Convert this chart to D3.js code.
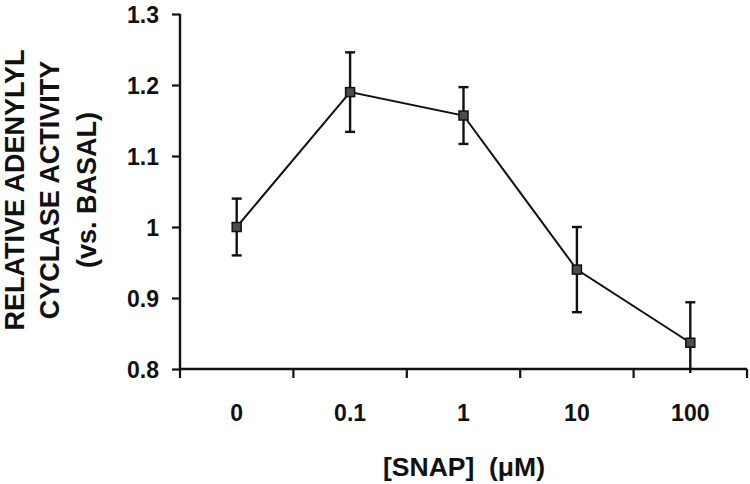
<!DOCTYPE html>
<html>
<head>
<meta charset="utf-8">
<script src="https://cdn.jsdelivr.net/npm/d3@7"></script>
<style>
  html, body { margin: 0; padding: 0; background: #fff; }
  svg { display: block; }
  text { font-family: "Liberation Sans", Arial, Helvetica, sans-serif; font-weight: bold; fill: #111; }
</style>
</head>
<body>
<svg id="chart" width="750" height="484"></svg>
<script>
// ---- data ----
const categories = ["0", "0.1", "1", "10", "100"];
const activity   = [1.00, 1.19, 1.157, 0.94, 0.837];
const errors     = [0.04, 0.056, 0.04, 0.06, 0.057];
const yTicks     = [0.8, 0.9, 1.0, 1.1, 1.2, 1.3];
const yTitleLines = ["RELATIVE ADENYLYL", "CYCLASE ACTIVITY", "(vs. BASAL)"];
const xTitle = "[SNAP]  (\u03BCM)";

const svg = d3.select("#chart");
const margin = { left: 180, top: 14, right: 3, bottom: 115 };
const W = 750, H = 484;

const x = d3.scaleBand().domain(categories).range([margin.left, W - margin.right]).padding(0);
const y = d3.scaleLinear().domain([0.8, 1.3]).range([H - margin.bottom, margin.top]);

const data = categories.map((c, i) => ({ c, v: activity[i], e: errors[i] }));
const cx = c => x(c) + x.bandwidth() / 2;

// ---- Y axis ----
const yAxis = svg.append("g")
  .attr("transform", `translate(${margin.left},0)`)
  .call(d3.axisLeft(y).tickValues(yTicks).tickSize(8).tickPadding(13)
    .tickFormat(d => Math.abs(d - 1) < 1e-9 ? "1" : d3.format(".1f")(d)));
yAxis.select(".domain").attr("stroke", "#111").attr("stroke-width", 2.4).attr("d", `M0,${y(1.3)}V${y(0.8)}`);
yAxis.selectAll(".tick line").attr("stroke", "#111").attr("stroke-width", 2.2);
yAxis.selectAll(".tick text").attr("font-size", 23).attr("dy", "0.36em");

// ---- X axis ----
const xAxis = svg.append("g")
  .attr("transform", `translate(0,${y(0.8)})`)
  .call(d3.axisBottom(x).tickSize(0).tickPadding(36));
xAxis.select(".domain").attr("stroke", "#111").attr("stroke-width", 2.4)
  .attr("d", `M${x.range()[0]},0H${x.range()[1]}`);
xAxis.selectAll(".tick text").attr("font-size", 23).attr("dy", "0.71em");
// boundary tick marks
const bounds = categories.map(c => x(c)).concat([x.range()[1]]);
xAxis.selectAll(".btick").data(bounds).join("line")
  .attr("class", "btick")
  .attr("x1", d => d).attr("x2", d => d)
  .attr("y1", 0).attr("y2", 9)
  .attr("stroke", "#111").attr("stroke-width", 2.2);

// ---- error bars ----
const eb = svg.append("g");
const capW = 5;
data.forEach(d => {
  const top = y(d.v + d.e);
  const lowV = d.v - d.e;
  const bot = y(Math.max(lowV, 0.8));
  eb.append("line").attr("x1", cx(d.c)).attr("x2", cx(d.c)).attr("y1", top).attr("y2", lowV < 0.8 ? bot + 4 : bot)
    .attr("stroke", "#111").attr("stroke-width", 2.4);
  eb.append("line").attr("x1", cx(d.c) - capW).attr("x2", cx(d.c) + capW).attr("y1", top).attr("y2", top)
    .attr("stroke", "#111").attr("stroke-width", 2.4);
  if (lowV >= 0.8) {
    eb.append("line").attr("x1", cx(d.c) - capW).attr("x2", cx(d.c) + capW).attr("y1", bot).attr("y2", bot)
      .attr("stroke", "#111").attr("stroke-width", 2.4);
  }
});

// ---- line ----
svg.append("path")
  .datum(data)
  .attr("fill", "none")
  .attr("stroke", "#111")
  .attr("stroke-width", 2)
  .attr("d", d3.line().x(d => cx(d.c)).y(d => y(d.v)));

// ---- markers ----
const ms = 9;
svg.append("g").selectAll("rect").data(data).join("rect")
  .attr("x", d => cx(d.c) - ms / 2)
  .attr("y", d => y(d.v) - ms / 2)
  .attr("width", ms).attr("height", ms)
  .attr("fill", "#4d4d4d").attr("stroke", "#111").attr("stroke-width", 1.5);

// ---- titles ----
svg.append("text")
  .attr("x", 464).attr("y", 476)
  .attr("text-anchor", "middle")
  .attr("font-size", 26.5)
  .attr("xml:space", "preserve")
  .style("white-space", "pre")
  .text(xTitle);

const yBase = [24, 59, 96];
const yt = svg.append("g");
yTitleLines.forEach((t, i) => {
  yt.append("text")
    .attr("transform", `translate(${yBase[i]},190) rotate(-90)`)
    .attr("text-anchor", "middle")
    .attr("font-size", 27)
    .text(t);
});
</script>
</body>
</html>
